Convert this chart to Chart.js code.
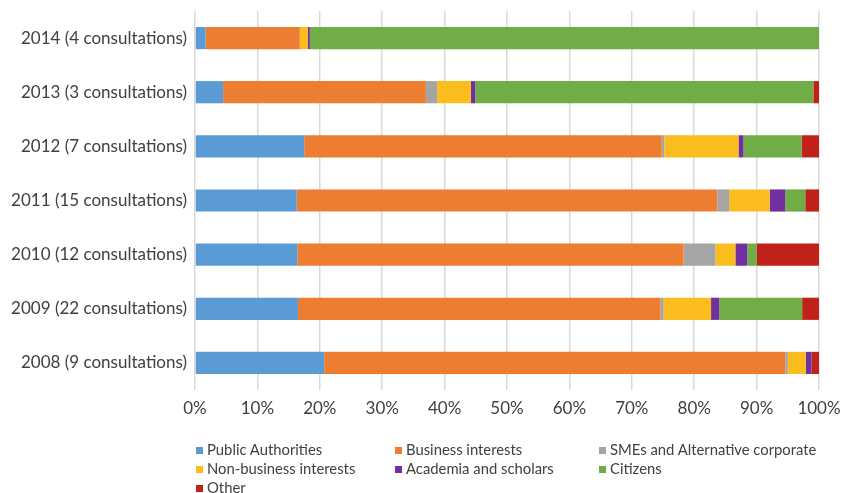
<!DOCTYPE html>
<html>
<head>
<meta charset="utf-8">
<script src="https://cdn.jsdelivr.net/npm/chart.js@4"></script>
<style>
  html, body { margin: 0; padding: 0; background: #fff; }
  #wrap { position: relative; width: 842px; height: 493px; }
  #legend { position: absolute; left: 196px; top: 440px; width: 640px;
    font-family: Lato, sans-serif; color: #404040; }
  #legend .item { position: absolute; white-space: nowrap; line-height: 19px; }
  #legend .box { display: inline-block; width: 7px; height: 7px; margin-right: 4px; vertical-align: 1px; }
</style>
</head>
<body>
<div id="wrap">
  <canvas id="consultChart" width="842" height="493"></canvas>
  <div id="legend"></div>
</div>
<script>
// categories, top to bottom
const years = [
  '2014 (4 consultations)',
  '2013 (3 consultations)',
  '2012 (7 consultations)',
  '2011 (15 consultations)',
  '2010 (12 consultations)',
  '2009 (22 consultations)',
  '2008 (9 consultations)'
];

// share of responses per group (%)
const publicAuthorities = [1.7, 4.5, 17.5, 16.3, 16.4, 16.5, 20.7];
const businessInterests = [15.1, 32.5, 57.3, 67.4, 61.9, 58.1, 73.9];
const smes = [0, 1.8, 0.4, 1.9, 5.1, 0.5, 0.4];
const nonBusiness = [1.3, 5.4, 11.9, 6.5, 3.2, 7.6, 2.9];
const academia = [0.3, 0.7, 0.8, 2.5, 1.9, 1.3, 0.9];
const citizens = [81.6, 54.2, 9.3, 3.2, 1.5, 13.3, 0];
const other = [0, 0.9, 2.8, 2.2, 10.0, 2.7, 1.2];

const xTicks = ['0%', '10%', '20%', '30%', '40%', '50%', '60%', '70%', '80%', '90%', '100%'];

const series = [
  { label: 'Public Authorities', data: publicAuthorities, color: '#5b9bd5' },
  { label: 'Business interests', data: businessInterests, color: '#ed7d31' },
  { label: 'SMEs and Alternative corporate', data: smes, color: '#a5a5a5' },
  { label: 'Non-business interests', data: nonBusiness, color: '#fbbd1e' },
  { label: 'Academia and scholars', data: academia, color: '#7030a0' },
  { label: 'Citizens', data: citizens, color: '#70ad47' },
  { label: 'Other', data: other, color: '#c0221a' }
];

const ctx = document.getElementById('consultChart');
new Chart(ctx, {
  type: 'bar',
  data: {
    labels: years,
    datasets: series.map(s => ({
      label: s.label,
      data: s.data,
      backgroundColor: s.color,
      borderWidth: 0,
      barPercentage: 0.82,
      categoryPercentage: 0.5
    }))
  },
  options: {
    indexAxis: 'y',
    responsive: false,
    animation: false,
    layout: { padding: { top: 11, right: 23, left: 0, bottom: 0 } },
    plugins: {
      legend: { display: false },
      tooltip: { enabled: false }
    },
    scales: {
      x: {
        stacked: true,
        min: 0,
        max: 100,
        grid: { color: '#d9d9d9', lineWidth: 1.5, drawTicks: false },
        border: { display: false },
        ticks: {
          stepSize: 10,
          padding: 8,
          color: '#404040',
          font: { family: 'Lato', size: 17 },
          callback: (v, i) => xTicks[i]
        },
        afterFit: scale => {
          scale.height = 103;
          scale.paddingLeft = 0;
          scale.paddingRight = 0;
        }
      },
      y: {
        stacked: true,
        grid: { display: false, drawTicks: false },
        border: { display: false },
        ticks: {
          padding: 8,
          color: '#404040',
          font: { family: 'Lato', size: 17 }
        },
        afterFit: scale => {
          scale.width = 195;
          scale.paddingTop = 0;
          scale.paddingBottom = 0;
        }
      }
    }
  }
});

// legend in three columns; font sized so the widest entry fits its column
const legendEl = document.getElementById('legend');
const measure = document.createElement('canvas').getContext('2d');
measure.font = '17px Lato';
const legendSize = 17 * 207 / measure.measureText('SMEs and Alternative corporate').width;
legendEl.style.fontSize = legendSize.toFixed(2) + 'px';

const legendCols = [0, 199, 403];
series.forEach((s, i) => {
  const item = document.createElement('div');
  item.className = 'item';
  item.style.left = legendCols[i % 3] + 'px';
  item.style.top = Math.floor(i / 3) * 19 + 'px';
  item.innerHTML = '<span class="box" style="background:' + s.color + '"></span>' + s.label;
  legendEl.appendChild(item);
});
</script>
</body>
</html>
